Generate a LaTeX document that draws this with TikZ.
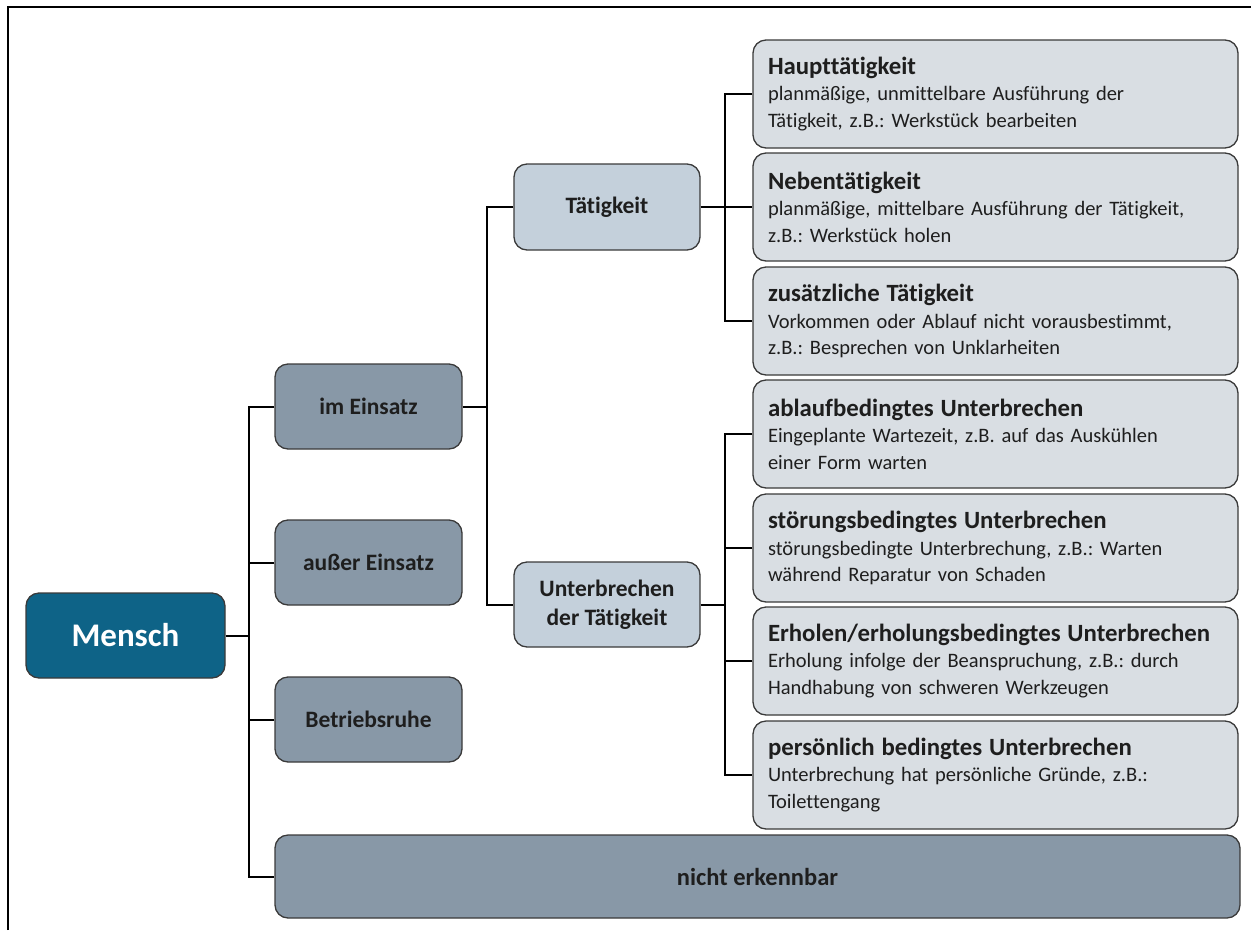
\documentclass[tikz,border=0pt]{standalone}
\usepackage{fontspec}
\setmainfont{Carlito}[Ligatures=NoCommon]
\frenchspacing
\begin{document}
\begin{tikzpicture}[x=1pt,y=-1pt,
  box/.style={draw=boxline,line width=1.3pt,rounded corners=13pt,align=center,inner sep=0pt},
  rootbox/.style={box,fill=rootfill,text=white,font=\fontsize{33}{36}\selectfont\bfseries},
  lvlone/.style={box,fill=lvlonefill,text=textdark,font=\fontsize{23.5}{29}\selectfont\bfseries},
  lvltwo/.style={box,fill=lvltwofill,text=textdark,font=\fontsize{23.5}{29}\selectfont\bfseries},
  leaf/.style={box,fill=leaffill,text=textdark,align=left,minimum width=485pt,minimum height=108pt,
    text width=455pt,font=\fontsize{20.5}{26.5}\selectfont},
  conn/.style={line width=2pt,black}]
\definecolor{boxline}{HTML}{3A3A3A}
\definecolor{rootfill}{HTML}{0E6387}
\definecolor{lvlonefill}{HTML}{8898A7}
\definecolor{lvltwofill}{HTML}{C4D0DB}
\definecolor{leaffill}{HTML}{D9DEE3}
\definecolor{textdark}{HTML}{1E1E1E}
\newcommand{\leafhead}[1]{{\fontsize{24.8}{27}\selectfont\bfseries #1}}

\useasboundingbox (0,0) rectangle (1251,930);
% outer frame
\draw[line width=2pt] (8,930) -- (8,7) -- (1251,7);

% root
\node[rootbox,minimum width=199pt,minimum height=85pt] (mensch) at (125.5,635.5) {Mensch};

% first level
\node[lvlone,minimum width=187pt,minimum height=85pt] (einsatz) at (368.5,406.5) {im Einsatz};
\node[lvlone,minimum width=187pt,minimum height=85pt] (ausser) at (368.5,562.5) {außer Einsatz};
\node[lvlone,minimum width=187pt,minimum height=85pt] (ruhe) at (368.5,719.5) {Betriebsruhe};
\node[lvlone,minimum width=965pt,minimum height=83pt,font=\fontsize{24.5}{29}\selectfont\bfseries] (nicht) at (757.5,876.5) {nicht erkennbar};

% second level
\node[lvltwo,minimum width=186pt,minimum height=86pt] (taet) at (607,207) {Tätigkeit};
\node[lvltwo,minimum width=186pt,minimum height=85pt] (unt) at (607,604.5) {Unterbrechen\\der Tätigkeit};

% leaves
\node[leaf] (haupt) at (995.5,94) {\leafhead{Haupttätigkeit}\\planmäßige, unmittelbare Ausführung der\\Tätigkeit, z.B.: Werkstück bearbeiten};
\node[leaf] (neben) at (995.5,207) {\leafhead{Nebentätigkeit}\\planmäßige, mittelbare Ausführung der Tätigkeit,\\z.B.: Werkstück holen};
\node[leaf] (zus) at (995.5,321) {\leafhead{zusätzliche Tätigkeit}\\Vorkommen oder Ablauf nicht vorausbestimmt,\\z.B.: Besprechen von Unklarheiten};
\node[leaf] (ablauf) at (995.5,434) {\leafhead{ablaufbedingtes Unterbrechen}\\Eingeplante Wartezeit, z.B. auf das Auskühlen\\einer Form warten};
\node[leaf] (stoer) at (995.5,548) {\leafhead{störungsbedingtes Unterbrechen}\\störungsbedingte Unterbrechung, z.B.: Warten\\während Reparatur von Schaden};
\node[leaf] (erhol) at (995.5,661) {\leafhead{Erholen/erholungsbedingtes Unterbrechen}\\Erholung infolge der Beanspruchung, z.B.: durch\\Handhabung von schweren Werkzeugen};
\node[leaf] (pers) at (995.5,775) {\leafhead{persönlich bedingtes Unterbrechen}\\Unterbrechung hat persönliche Gründe, z.B.:\\Toilettengang};

% bus lines
\coordinate (b0) at (249,0);
\coordinate (b1) at (487,0);
\coordinate (b2) at (725,0);

\draw[conn] (mensch.east) -- (mensch.east -| b0);
\draw[conn] (einsatz.west) -- (einsatz.west -| b0) -- (nicht.west -| b0) -- (nicht.west);
\draw[conn] (ausser.west) -- (ausser.west -| b0);
\draw[conn] (ruhe.west) -- (ruhe.west -| b0);

\draw[conn] (einsatz.east) -- (einsatz.east -| b1);
\draw[conn] (taet.west) -- (taet.west -| b1) -- (unt.west -| b1) -- (unt.west);

\draw[conn] (taet.east) -- (neben.west);
\draw[conn] (haupt.west) -- (haupt.west -| b2) -- (zus.west -| b2) -- (zus.west);

\draw[conn] (unt.east) -- (unt.east -| b2);
\draw[conn] (ablauf.west) -- (ablauf.west -| b2) -- (pers.west -| b2) -- (pers.west);
\draw[conn] (stoer.west) -- (stoer.west -| b2);
\draw[conn] (erhol.west) -- (erhol.west -| b2);
\end{tikzpicture}
\end{document}
